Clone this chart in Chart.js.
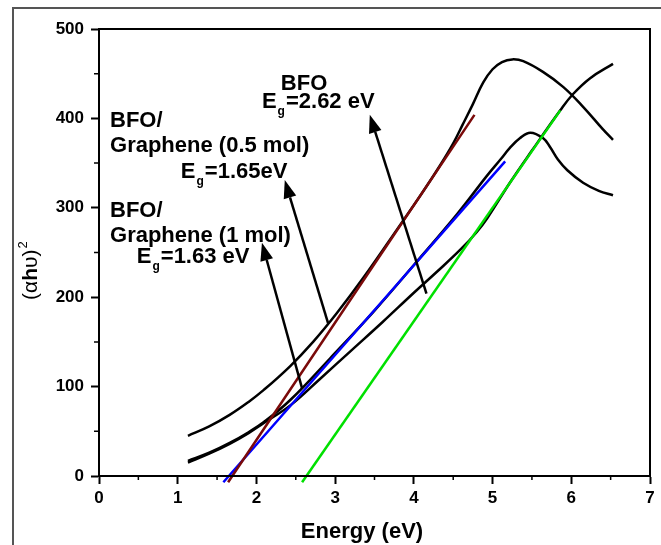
<!DOCTYPE html>
<html>
<head>
<meta charset="utf-8">
<script src="https://cdn.jsdelivr.net/npm/chart.js@4.4.1/dist/chart.umd.min.js"></script>
<style>
  html, body { margin: 0; padding: 0; background: #fff; }
</style>
</head>
<body>
<canvas id="myChart" width="661" height="545"></canvas>
<script>
// (alpha h nu)^2 against photon energy

// BFO/Graphene (0.5 mol)
var energyGr05 = [1.13, 1.4, 1.66, 1.9, 2.09, 2.43, 2.72, 3.02, 3.36, 3.78, 4.1, 4.33, 4.5, 4.62, 4.75, 4.88, 5.0, 5.12, 5.25, 5.39, 5.64, 5.9, 6.15, 6.4, 6.53];
var absGr05 = [45, 55.5, 68.4, 82.9, 96, 123, 150, 182, 222, 275, 316, 347, 372, 393, 416, 440, 455, 463, 466, 464, 452, 435, 413, 388, 376];

// BFO/Graphene (1 mol)
var energyGr1 = [1.13, 1.4, 1.66, 1.9, 2.09, 2.43, 2.94, 3.5, 4.0, 4.55, 4.93, 5.1, 5.22, 5.35, 5.48, 5.64, 5.73, 5.83, 5.95, 6.15, 6.35, 6.53];
var absGr1 = [17, 26, 37, 49, 60, 85, 132, 185, 236, 293, 336, 354, 367, 378, 384, 378, 368, 354, 342, 328, 319, 314];

// BFO
var energyBFO = [1.13, 1.4, 1.66, 1.9, 2.09, 2.43, 2.8, 3.2, 3.6, 4.0, 4.3, 4.6, 4.8, 4.93, 5.22, 5.5, 5.86, 6.02, 6.24, 6.53];
var absBFO = [15, 25, 36, 48, 59, 79, 108, 140, 172, 205, 229, 254, 273, 288, 328, 364, 409, 427, 445, 461];

// linear fits (tangents), two end points each
var fitGr05E = [1.64, 4.77];
var fitGr05Y = [-7, 404];
var fitGr1E = [1.58, 5.16];
var fitGr1Y = [-7, 352];
var fitBFOE = [2.58, 5.86];
var fitBFOY = [-7, 409];

var xTicks = [0, 1, 2, 3, 4, 5, 6, 7];
var yTicks = [0, 100, 200, 300, 400, 500];

// arrows: [tailE, tailY, headE, headY]
var arrowBFO = [4.16, 204, 3.44, 404];
var arrowGr05 = [2.91, 171, 2.36, 331];
var arrowGr1 = [2.58, 98, 2.07, 261];

function pts(xs, ys) {
  return xs.map(function (x, i) { return { x: x, y: ys[i] }; });
}

var FONT = '"Liberation Sans", Arial, sans-serif';

// labels placed in data units: [text, E, value, hasSubscript]
var labels = [
  ['BFO', 2.31, 432, false],
  ['=2.62 eV', 2.07, 412, true],
  ['BFO/', 0.14, 390, false],
  ['Graphene (0.5 mol)', 0.14, 362, false],
  ['=1.65eV', 1.04, 333, true],
  ['BFO/', 0.14, 290, false],
  ['Graphene (1 mol)', 0.14, 262, false],
  ['=1.63 eV', 0.48, 238, true]
];

function drawArrow(ctx, xs, ys, a) {
  var x1 = xs.getPixelForValue(a[0]), y1 = ys.getPixelForValue(a[1]);
  var x2 = xs.getPixelForValue(a[2]), y2 = ys.getPixelForValue(a[3]);
  var ang = Math.atan2(y2 - y1, x2 - x1);
  var len = 18, half = 6.5;
  var bx = x2 - len * Math.cos(ang), by = y2 - len * Math.sin(ang);
  ctx.strokeStyle = '#000';
  ctx.lineWidth = 2.5;
  ctx.beginPath();
  ctx.moveTo(x1, y1);
  ctx.lineTo(bx, by);
  ctx.stroke();
  ctx.fillStyle = '#000';
  ctx.beginPath();
  ctx.moveTo(x2, y2);
  ctx.lineTo(bx + half * Math.sin(ang), by - half * Math.cos(ang));
  ctx.lineTo(bx - half * Math.sin(ang), by + half * Math.cos(ang));
  ctx.closePath();
  ctx.fill();
}

var extras = {
  id: 'extras',
  beforeDraw: function (chart) {
    var ctx = chart.ctx;
    ctx.save();
    ctx.fillStyle = '#fff';
    ctx.fillRect(0, 0, chart.width, chart.height);
    // outer frame of the picture
    ctx.strokeStyle = '#555';
    ctx.lineWidth = 2;
    ctx.beginPath();
    ctx.moveTo(13, chart.height);
    ctx.lineTo(13, 8);
    ctx.lineTo(chart.width, 8);
    ctx.stroke();
    ctx.restore();
  },
  afterDatasetsDraw: function (chart) {
    var ctx = chart.ctx;
    var xs = chart.scales.x, ys = chart.scales.y;
    var a = chart.chartArea;
    ctx.save();
    // box
    ctx.strokeStyle = '#000';
    ctx.lineWidth = 2;
    ctx.strokeRect(a.left, a.top, a.right - a.left, a.bottom - a.top);
    // minor ticks
    ctx.lineWidth = 1.5;
    ctx.beginPath();
    for (var e = 0.5; e < 7; e += 1) {
      var px = xs.getPixelForValue(e);
      ctx.moveTo(px, a.bottom);
      ctx.lineTo(px, a.bottom + 4);
    }
    for (var v = 50; v < 500; v += 100) {
      var py = ys.getPixelForValue(v);
      ctx.moveTo(a.left, py);
      ctx.lineTo(a.left - 5, py);
    }
    ctx.stroke();

    drawArrow(ctx, xs, ys, arrowBFO);
    drawArrow(ctx, xs, ys, arrowGr05);
    drawArrow(ctx, xs, ys, arrowGr1);

    ctx.fillStyle = '#000';
    ctx.textBaseline = 'alphabetic';
    ctx.textAlign = 'left';
    labels.forEach(function (l) {
      var x = xs.getPixelForValue(l[1]);
      var y = ys.getPixelForValue(l[2]);
      ctx.font = 'bold 22px ' + FONT;
      if (l[3]) {
        ctx.fillText('E', x, y);
        var w = ctx.measureText('E').width;
        ctx.font = 'bold 12px ' + FONT;
        ctx.fillText('g', x + w + 1, y + 7);
        var w2 = ctx.measureText('g').width;
        ctx.font = 'bold 22px ' + FONT;
        ctx.fillText(l[0], x + w + w2 + 2, y);
      } else {
        ctx.fillText(l[0], x, y);
      }
    });

    // x axis title
    ctx.font = 'bold 22px ' + FONT;
    ctx.textAlign = 'center';
    ctx.fillText('Energy (eV)', 362, 538);

    // y axis title (alpha h nu)^2
    ctx.translate(37, 300);
    ctx.rotate(-Math.PI / 2);
    ctx.textAlign = 'left';
    var cx = 0;
    ctx.font = '21px ' + FONT;
    ctx.fillText('(\u03b1', cx, 0);
    cx += ctx.measureText('(\u03b1').width;
    ctx.font = 'bold 21px ' + FONT;
    ctx.fillText('h', cx, 0);
    cx += ctx.measureText('h').width;
    ctx.font = '21px ' + FONT;
    ctx.fillText('\u03c5)', cx, 0);
    cx += ctx.measureText('\u03c5)').width;
    ctx.font = '13px ' + FONT;
    ctx.fillText('2', cx + 1, -10);
    ctx.restore();
  }
};

function line(data, color, width, clip) {
  return {
    data: data,
    showLine: true,
    borderColor: color,
    borderWidth: width,
    pointRadius: 0,
    fill: false,
    tension: 0.4,
    clip: clip
  };
}

var ctx = document.getElementById('myChart');
var myChart = new Chart(ctx, {
  type: 'scatter',
  data: {
    datasets: [
      line(pts(fitGr05E, fitGr05Y), '#7a0a0a', 2.5, false),
      line(pts(fitGr1E, fitGr1Y), '#0000ff', 2.5, false),
      line(pts(fitBFOE, fitBFOY), '#00e000', 2.5, false),
      line(pts(energyGr05, absGr05), '#000', 2.5, 4),
      line(pts(energyGr1, absGr1), '#000', 2.5, 4),
      line(pts(energyBFO, absBFO), '#000', 2.5, 4)
    ]
  },
  options: {
    responsive: false,
    animation: false,
    devicePixelRatio: 1,
    layout: { padding: { top: 29, right: 11, left: 0, bottom: 0 } },
    plugins: { legend: { display: false }, tooltip: { enabled: false } },
    scales: {
      x: {
        type: 'linear',
        min: 0,
        max: 7,
        afterBuildTicks: function (s) { s.ticks = xTicks.map(function (v) { return { value: v }; }); },
        afterFit: function (s) { s.height = 69; },
        ticks: { color: '#000', font: { family: FONT, size: 17, weight: 'bold' }, padding: 4 },
        grid: { drawOnChartArea: false, color: '#000', tickLength: 8, tickWidth: 2 },
        border: { display: true, color: '#000', width: 2 }
      },
      y: {
        type: 'linear',
        min: 0,
        max: 500,
        afterBuildTicks: function (s) { s.ticks = yTicks.map(function (v) { return { value: v }; }); },
        afterFit: function (s) { s.width = 99; },
        ticks: { color: '#000', font: { family: FONT, size: 17, weight: 'bold' }, padding: 7 },
        grid: { drawOnChartArea: false, color: '#000', tickLength: 8, tickWidth: 2 },
        border: { display: true, color: '#000', width: 2 }
      }
    }
  },
  plugins: [extras]
});
</script>
</body>
</html>
